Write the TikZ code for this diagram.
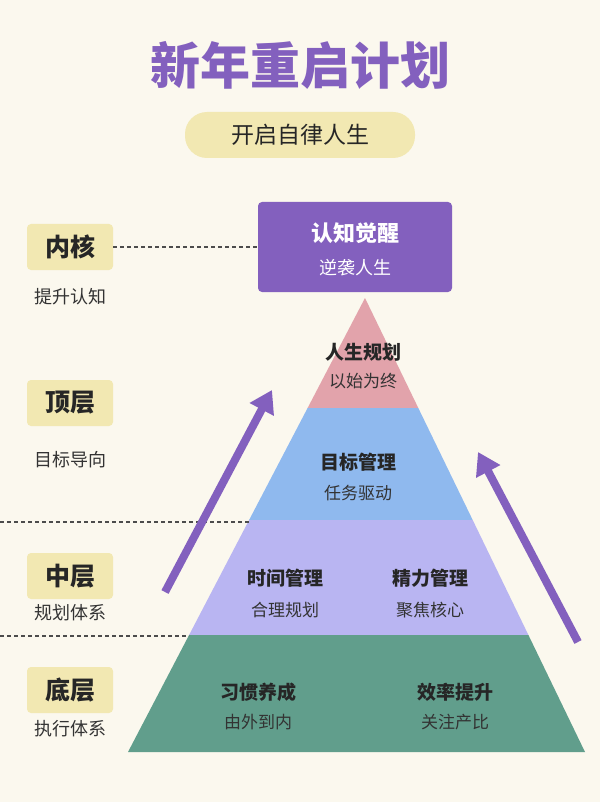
\documentclass[tikz,border=0pt]{standalone}
\usepackage{fontspec}
\setmainfont{Noto Sans CJK SC}
\begin{document}
\begin{tikzpicture}[x=1pt,y=-1pt,
 lab/.style={fill=yelbox,rounded corners=4pt,minimum width=86pt,minimum height=46pt,font=\fontsize{25}{27}\selectfont\bfseries,text=black!85},
 sub/.style={font=\fontsize{18}{20}\selectfont,text=black!80},
 hd/.style={font=\fontsize{19}{21}\selectfont\bfseries,text=black!85},
 sb/.style={font=\fontsize{17}{19}\selectfont,text=black!80},
 dsh/.style={dash pattern=on 4pt off 3pt,gray!60!black,line width=1.3pt},
 arr/.style={line width=8pt,draw=purp,-{Triangle[length=22pt,width=26pt]}}]
\usetikzlibrary{arrows.meta}
\definecolor{bg}{HTML}{FBF8EE}
\definecolor{purp}{HTML}{8360BE}
\definecolor{yelbox}{HTML}{F2E8B2}
\definecolor{pinkc}{HTML}{E2A3AB}
\definecolor{bluec}{HTML}{8FB9EE}
\definecolor{lavc}{HTML}{B9B5F2}
\definecolor{greenc}{HTML}{619E8C}
\fill[bg] (0,0) rectangle (600,802);
\useasboundingbox (0,0) rectangle (600,802);
\node (title) at (300,65) {\fontsize{50}{54}\selectfont\bfseries\color{purp}新年重启计划};
\node (pill) at (300,135) [fill=yelbox,rounded corners=22pt,minimum width=230pt,minimum height=46pt,font=\fontsize{23}{25}\selectfont,text=black!85] {开启自律人生};
% pyramid
\coordinate (apex) at (365,298);
\fill[pinkc] (apex) -- (418.3,408) -- (307.6,408) -- cycle;
\fill[bluec] (307.6,408) -- (418.3,408) -- (472.7,520) -- (249.1,520) -- cycle;
\fill[lavc] (249.1,520) -- (472.7,520) -- (528.4,635) -- (189.1,635) -- cycle;
\fill[greenc] (189.1,635) -- (528.4,635) -- (585,752) -- (128,752) -- cycle;
\node (top) at (355,247) [fill=purp,rounded corners=4pt,minimum width=194pt,minimum height=90pt] {};
\node (t1) at (355,233) {\fontsize{22}{24}\selectfont\bfseries\color{white}认知觉醒};
\node (t2) at (355,268) {\fontsize{18}{20}\selectfont\color{white}逆袭人生};
\node[hd] (p1) at (363,352) {人生规划};
\node[sb] (p2) at (363,381) {以始为终};
\node[hd] (b1) at (358,462) {目标管理};
\node[sb] (b2) at (358,493) {任务驱动};
\node[hd] (l1) at (285,578) {时间管理};
\node[sb] (l2) at (285,610) {合理规划};
\node[hd] (l3) at (430,578) {精力管理};
\node[sb] (l4) at (430,610) {聚焦核心};
\node[hd] (g1) at (258,692) {习惯养成};
\node[sb] (g2) at (258,722) {由外到内};
\node[hd] (g3) at (455,692) {效率提升};
\node[sb] (g4) at (455,722) {关注产比};
% left labels
\node[lab] (k1) at (70,247) {内核};
\node[sub] at (70,297) {提升认知};
\node[lab] (k2) at (70,403) {顶层};
\node[sub] at (70,460) {目标导向};
\node[lab] (k3) at (70,576) {中层};
\node[sub] at (70,613) {规划体系};
\node[lab] (k4) at (70,690) {底层};
\node[sub] at (70,729) {执行体系};
\draw[dsh] (k1.east) -- (top.west);
\draw[dsh] (0,522) -- (249,522);
\draw[dsh] (0,636) -- (189,636);
% arrows
\coordinate (a1s) at (165,592); \coordinate (a1e) at (272,390);
\coordinate (a2s) at (578,642); \coordinate (a2e) at (478,452);
\draw[arr] (a1s) -- (a1e);
\draw[arr] (a2s) -- (a2e);
\end{tikzpicture}
\end{document}
